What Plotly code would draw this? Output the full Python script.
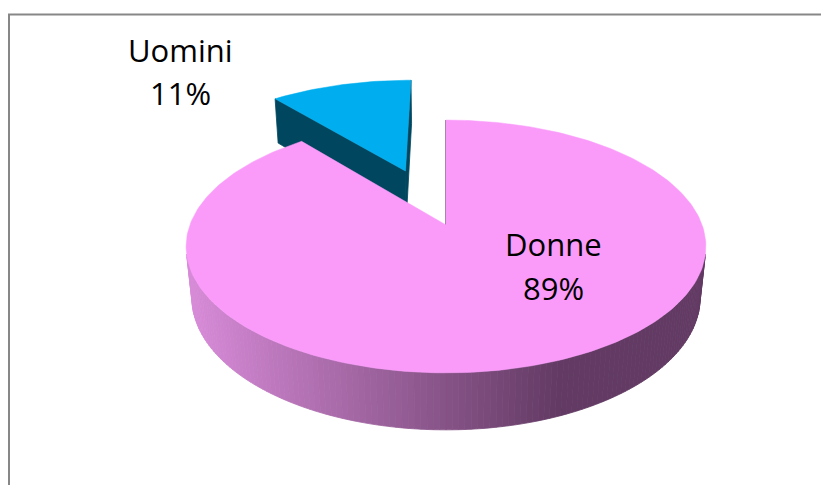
import numpy as np
import plotly.graph_objects as go

# ---- data ----
categories = ["Donne", "Uomini"]
values = [89, 11]
explode = [0.0, 0.505]          # fraction of radius each slice is pulled out
top_colors = ["#FA9BFA", "#00AEEF"]
cut_colors = ["#5A3159", "#00465E"]

# ---- 3D projection (style / geometry) ----
W, H = 829, 493
PAD = 8                         # default page body margin
CX, CY = 446.0, 225.0
FX, FY = 1319.0, 1304.0
DIST = 5.15
PHI = np.radians(29.0)
THICK = 0.234
S, C = np.sin(PHI), np.cos(PHI)
CAM = np.array([0.0, -DIST * C, DIST * S])


def proj(X, Y, Z):
    X = np.asarray(X, float)
    Y = np.asarray(Y, float)
    Z = np.asarray(Z, float)
    v = Y * S + Z * C
    d = DIST + Y * C - Z * S
    return CX + FX * X / d, CY - FY * v / d


def visible(normal, point):
    return np.dot(normal, CAM - np.asarray(point)) > -1e-9


LIGHT = np.array([216, 139, 216])
DARK = np.array([98, 58, 99])


def wall_color(x):
    t = np.clip((x - 190.0) / (560.0 - 190.0), 0, 1)
    c = LIGHT + (DARK - LIGHT) * t
    return "rgb(%d,%d,%d)" % tuple(np.round(c).astype(int))


fig = go.Figure()


def poly(xs, ys, color, lw=0.8):
    fig.add_trace(go.Scatter(
        x=list(xs) + [xs[0]], y=list(ys) + [ys[0]],
        mode="lines", fill="toself", fillcolor=color,
        line=dict(color=color, width=lw), hoverinfo="skip", showlegend=False))


total = float(sum(values))
cum = np.concatenate([[0], np.cumsum(values)]) / total
slices = []
for i, cat in enumerate(categories):
    # Excel: start at 12 o'clock, clockwise
    a_hi = np.radians(90 - cum[i] * 360)
    a_lo = np.radians(90 - cum[i + 1] * 360)
    mid = 0.5 * (a_lo + a_hi)
    ox, oy = explode[i] * np.cos(mid), explode[i] * np.sin(mid)
    slices.append((i, a_lo, a_hi, ox, oy))

# paint back-to-front
slices.sort(key=lambda s: -s[4])

for i, a_lo, a_hi, ox, oy in slices:
    n = max(8, int(np.degrees(a_hi - a_lo) / 1.2))
    th = np.linspace(a_lo, a_hi, n + 1)
    rx, ry = ox + np.cos(th), oy + np.sin(th)

    faces = []
    # cut faces
    for a, nrm in ((a_lo, (np.sin(a_lo), -np.cos(a_lo), 0.0)),
                   (a_hi, (-np.sin(a_hi), np.cos(a_hi), 0.0))):
        px, py = ox + np.cos(a), oy + np.sin(a)
        cen = ((ox + px) / 2, (oy + py) / 2, -THICK / 2)
        if visible(np.array(nrm), cen):
            X = [ox, px, px, ox]
            Y = [oy, py, py, oy]
            Z = [0, 0, -THICK, -THICK]
            sx, sy = proj(X, Y, Z)
            faces.append((cen[1], sx, sy, cut_colors[i]))
    # outer rim strips
    for k in range(n):
        tm = 0.5 * (th[k] + th[k + 1])
        nrm = np.array([np.cos(tm), np.sin(tm), 0.0])
        cen = (ox + np.cos(tm), oy + np.sin(tm), -THICK / 2)
        if visible(nrm, cen):
            X = [rx[k], rx[k + 1], rx[k + 1], rx[k]]
            Y = [ry[k], ry[k + 1], ry[k + 1], ry[k]]
            Z = [0, 0, -THICK, -THICK]
            sx, sy = proj(X, Y, Z)
            faces.append((cen[1], sx, sy, wall_color(np.mean(sx))))
    faces.sort(key=lambda f: -f[0])
    for _, sx, sy, col in faces:
        poly(sx, sy, col)
    # top face
    X = np.concatenate([[ox], rx])
    Y = np.concatenate([[oy], ry])
    sx, sy = proj(X, Y, np.zeros_like(X))
    poly(sx, sy, top_colors[i], lw=0.5)

# ---- labels ----
label_pos = {"Uomini": (180, 50, 93), "Donne": (553, 244, 288)}
annotations = []
for cat, val in zip(categories, values):
    x, y1, y2 = label_pos[cat]
    pct = round(100 * val / total)
    for txt, yy in ((cat, y1), (f"{pct}%", y2)):
        annotations.append(dict(x=x, y=yy, xref="x", yref="y", text=txt,
                                showarrow=False, xanchor="center", yanchor="middle",
                                font=dict(family="Open Sans", size=31, color="#000000")))

fig.update_layout(
    width=W - 2 * PAD, height=H - 2 * PAD,
    margin=dict(l=0, r=0, t=0, b=0),
    paper_bgcolor="white", plot_bgcolor="white",
    xaxis=dict(range=[PAD, W - PAD], visible=False, fixedrange=True),
    yaxis=dict(range=[H - PAD, PAD], visible=False, fixedrange=True),
    showlegend=False,
    annotations=annotations,
    shapes=[dict(type="rect", xref="x", yref="y", x0=9, y0=14.5, x1=W + 20, y1=H + 20,
                 line=dict(color="#878787", width=2), layer="above")],
)

fig.write_html("out.html")
